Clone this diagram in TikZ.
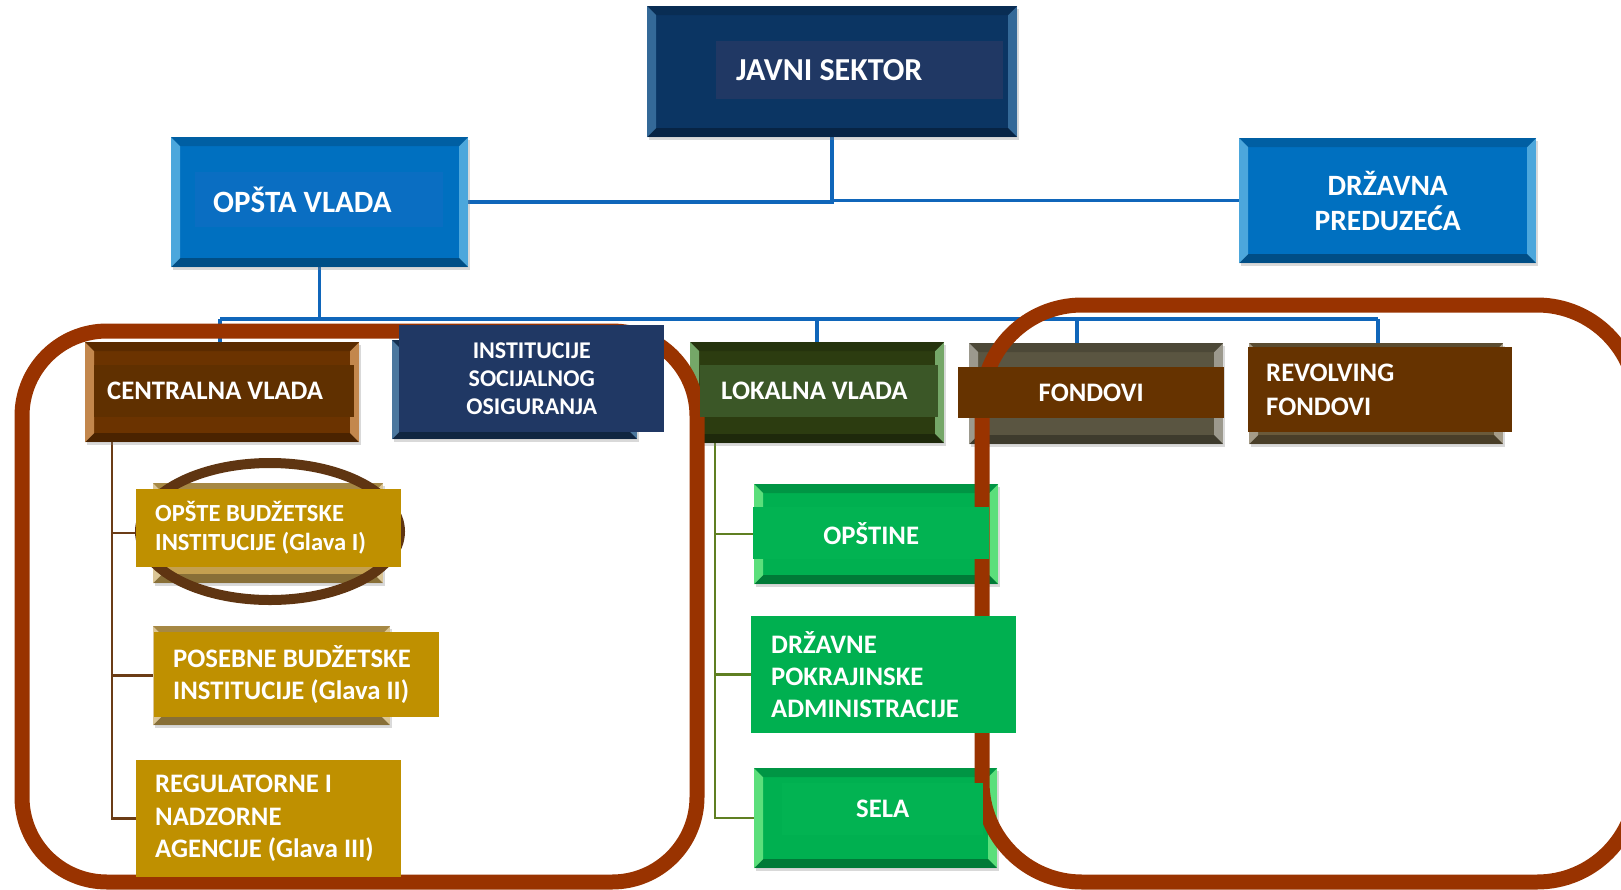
\documentclass[tikz,border=0pt]{standalone}
\usepackage{fontspec}
\setmainfont{Carlito}
\usetikzlibrary{positioning,calc,shadows,backgrounds}
\definecolor{navy}{HTML}{0B3563}
\definecolor{navyband}{HTML}{203864}
\definecolor{navyback}{HTML}{17375E}
\definecolor{skyblue}{HTML}{0070C0}
\definecolor{skyband}{HTML}{0A6EC2}
\definecolor{wireblue}{HTML}{1066BA}
\definecolor{brownbox}{HTML}{6B3300}
\definecolor{brownband}{HTML}{603000}
\definecolor{forest}{HTML}{2C3C10}
\definecolor{forestband}{HTML}{3B5727}
\definecolor{olive}{HTML}{5A5541}
\definecolor{olivebrown}{HTML}{6A5A3A}
\definecolor{fundbrown}{HTML}{663300}
\definecolor{gold}{HTML}{BF9000}
\definecolor{goldback}{HTML}{C4A050}
\definecolor{leaf}{HTML}{00B050}
\definecolor{leafband}{HTML}{02B352}
\definecolor{rust}{HTML}{993300}
\definecolor{ringbrown}{HTML}{5F3512}
\definecolor{wirebrown}{HTML}{6B3C16}
\definecolor{wiregreen}{HTML}{5F7F22}

\tikzset{
  bevel/.style={path picture={
      \path (path picture bounding box.north west) coordinate (bnw)
            (path picture bounding box.north east) coordinate (bne)
            (path picture bounding box.south east) coordinate (bse)
            (path picture bounding box.south west) coordinate (bsw);
      \fill[#1] (bnw) -- (bsw) -- ([shift={(9pt,9pt)}]bsw) -- ([shift={(9pt,-9pt)}]bnw) -- cycle;
      \fill[#1] (bne) -- (bse) -- ([shift={(-9pt,9pt)}]bse) -- ([shift={(-9pt,-9pt)}]bne) -- cycle;
      \fill[black, opacity=.3] (bsw) -- (bse) -- ([shift={(-9pt,9pt)}]bse) -- ([shift={(9pt,9pt)}]bsw) -- cycle;
      \fill[black, opacity=.15] (bnw) -- (bne) -- ([shift={(-9pt,-9pt)}]bne) -- ([shift={(9pt,-9pt)}]bnw) -- cycle;
  }},
  backbox/.style={inner sep=0pt, anchor=north west, fill=#1, text=white,
    drop shadow={shadow xshift=2pt, shadow yshift=-3pt, opacity=.3}},
  band/.style={inner sep=0pt, anchor=north west, fill=#1, text=white},
  boxfont/.style 2 args={font=\bfseries\fontsize{#1}{#2}\selectfont},
  bluewire/.style={draw=wireblue, line width=3.5pt},
  brownwire/.style={draw=wirebrown, line width=2.5pt},
  greenwire/.style={draw=wiregreen, line width=2.5pt},
  frame/.style={draw=rust, line width=15pt}
}

\begin{document}
\begin{tikzpicture}[x=1pt, y=-1pt]
  \useasboundingbox (0,0) rectangle (1621,889);
  \clip (0,0) rectangle (1621,889);

  % back boxes
  \node[backbox=navy, bevel={skyblue!60!white,opacity=.45}, minimum width=370pt, minimum height=131pt] (javni) at (647,6) {};
  \node[backbox=skyblue, bevel={cyan!40!white,opacity=.5}, minimum width=297pt, minimum height=130pt] (opsta) at (171,137) {};
  \node[backbox=skyblue, bevel={cyan!40!white,opacity=.5}, boxfont={29.5}{35}, align=center,
        minimum width=297pt, minimum height=125pt] (drzavna) at (1239,138) {DRŽAVNA\\PREDUZEĆA};
  \node[backbox=brownbox, bevel={orange!50!white,opacity=.6}, minimum width=274pt, minimum height=100pt] (centralna) at (85,342) {};
  \node[backbox=navyback, bevel={skyblue!50!white,opacity=.5}, minimum width=245pt, minimum height=99pt] (institucije) at (392,340) {};
  \node[backbox=forest, bevel={green!30!white,opacity=.55}, minimum width=254pt, minimum height=101pt] (lokalna) at (690,342) {};
  \node[backbox=olive, bevel={white,opacity=.4}, minimum width=254pt, minimum height=101pt] (fondovi) at (969,343) {};
  \node[backbox=olivebrown, bevel={white,opacity=.4}, minimum width=254pt, minimum height=101pt] (revolving) at (1249,343) {};
  \node[backbox=goldback, bevel={white,opacity=.4}, minimum width=230pt, minimum height=100pt] (opste) at (153,483) {};
  \node[backbox=goldback, bevel={white,opacity=.4}, minimum width=237pt, minimum height=99pt] (posebne) at (153,626) {};
  \node[backbox=leaf, bevel={green!40!white,opacity=.6}, minimum width=244pt, minimum height=100pt] (opstine) at (754,484) {};
  \node[backbox=leaf, bevel={green!40!white,opacity=.6}, minimum width=243pt, minimum height=100pt] (sela) at (754,768) {};

  % ring and frames
  \draw[ringbrown, line width=10pt] (270,531.5) ellipse [x radius=130, y radius=68.5];
  \draw[frame, rounded corners=85pt] (22,331) rectangle (697,882);
  \draw[frame, rounded corners=100pt] (982,305) rectangle (1637,882);

  % text bands
  \node[band=navyband, boxfont={32}{37}, minimum width=287pt, minimum height=58pt,
        inner xsep=20pt, text width=247pt, align=flush left] (javnitext) at (716,41) {JAVNI SEKTOR};
  \node[band=skyband, boxfont={31}{36}, minimum width=248pt, minimum height=55pt,
        inner xsep=18pt, text width=212pt, align=flush left] (opstatext) at (195,172) {OPŠTA VLADA};
  \node[band=brownband, boxfont={26.7}{31}, minimum width=260pt, minimum height=52pt,
        inner xsep=13pt, text width=234pt, align=flush left] (centralnatext) at (94,365) {CENTRALNA VLADA};
  \node[band=navyband, boxfont={24}{28}, minimum width=265pt, minimum height=107pt,
        align=center] (institucijetext) at (399,325) {INSTITUCIJE\\SOCIJALNOG\\OSIGURANJA};
  \node[band=forestband, boxfont={26.7}{31}, minimum width=238pt, minimum height=52pt,
        inner xsep=21pt, text width=196pt, align=flush left] (lokalnatext) at (700,365) {LOKALNA VLADA};
  \node[band=fundbrown, boxfont={26.7}{31}, minimum width=266pt, minimum height=51pt] (fondovitext) at (958,367) {FONDOVI};
  \node[band=fundbrown, boxfont={26.7}{34}, minimum width=264pt, minimum height=85pt,
        inner xsep=18pt, text width=228pt, align=flush left] (revolvingtext) at (1248,347) {REVOLVING\\FONDOVI};
  \node[band=gold, boxfont={24.6}{29}, minimum width=265pt, minimum height=78pt,
        inner xsep=19pt, text width=227pt, align=flush left] (opstetext) at (136,489) {OPŠTE BUDŽETSKE\\INSTITUCIJE (Glava I)};
  \node[band=gold, boxfont={26.7}{32}, minimum width=285pt, minimum height=85pt,
        inner xsep=19pt, text width=247pt, align=flush left] (posebnetext) at (154,632) {POSEBNE BUDŽETSKE\\INSTITUCIJE (Glava II)};
  \node[band=gold, boxfont={26.7}{32.5}, minimum width=265pt, minimum height=117pt,
        inner xsep=19pt, text width=227pt, align=flush left] (regulatorne) at (136,760) {REGULATORNE I\\NADZORNE\\AGENCIJE (Glava III)};
  \node[band=leafband, boxfont={26.7}{31}, minimum width=236pt, minimum height=52pt] (opstinetext) at (753,507) {OPŠTINE};
  \node[band=leaf, boxfont={26.7}{32}, minimum width=265pt, minimum height=117pt,
        inner xsep=20pt, text width=225pt, align=flush left] (drzavne) at (751,616) {DRŽAVNE\\POKRAJINSKE\\ADMINISTRACIJE};
  \node[band=leafband, boxfont={26.7}{31}, minimum width=201pt, minimum height=52pt] (selatext) at (782,783) {SELA};

  % connectors
  \begin{scope}[on background layer]
    \draw[bluewire] (javni.south) |- (opsta.east);
    \draw[bluewire] (javni.south) |- (drzavna.west);
    \coordinate (busL) at (220,319);
    \coordinate (busR) at (1378,319);
    \coordinate (fondtap) at (1077,319);
    \draw[bluewire] (opsta.south) -- (opsta.south |- busL);
    \draw[bluewire] (busL) -- (busR);
    \draw[bluewire] (busL) -- (busL |- centralna.north);
    \draw[bluewire] (lokalna.north |- busL) -- (lokalna.north);
    \draw[bluewire] (fondtap) -- (fondtap |- fondovi.north);
    \draw[bluewire] (busR) -- (busR |- revolving.north);

    \coordinate (cvtrunk) at ([xshift=27pt]centralna.south west);
    \draw[brownwire] (cvtrunk) |- (regulatorne.west);
    \foreach \n in {opste, posebne}
      \draw[brownwire] (cvtrunk |- \n.west) -- (\n.west);

    \coordinate (lvtrunk) at ([xshift=25pt]lokalna.south west);
    \draw[greenwire] (lvtrunk) |- (sela.west);
    \foreach \n in {opstine, drzavne}
      \draw[greenwire] (lvtrunk |- \n.west) -- (\n.west);
  \end{scope}
\end{tikzpicture}
\end{document}
